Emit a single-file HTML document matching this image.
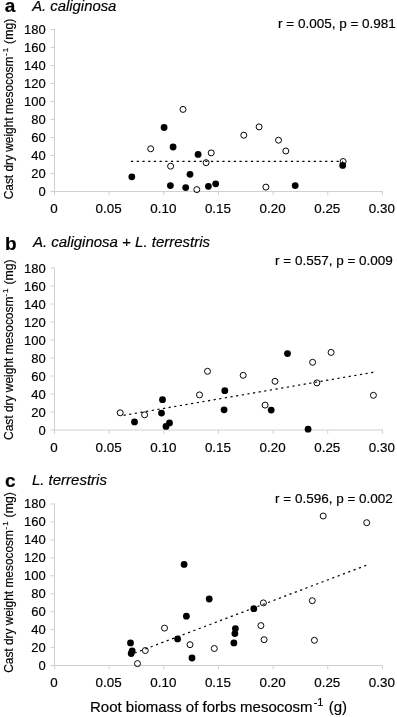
<!DOCTYPE html>
<html><head><meta charset="utf-8"><title>Figure</title>
<style>
html,body{margin:0;padding:0;background:#fff;overflow:hidden;}
svg{display:block;}
text{font-family:"Liberation Sans",sans-serif;fill:#000;stroke:#000;stroke-width:0.18px;}
.tk{font-size:13px;}
.tx{font-size:13.4px;}

.xl{font-size:15px;}
.lt{font-size:19px;font-weight:bold;}
.ti{font-style:italic;}
.st{font-size:13.5px;}
</style></head><body>
<svg width="397" height="717" viewBox="0 0 397 717">
<rect width="397" height="717" fill="#fff"/>
<g transform="translate(0,0.0)">
<g stroke="#d0d0d0" stroke-width="1" fill="none" shape-rendering="auto">
<path d="M54.5,29.00V195.3M50.3,191.5H382.90"/>
<path d="M50.7,173.50H54.5M50.7,155.50H54.5M50.7,137.50H54.5M50.7,119.50H54.5M50.7,101.50H54.5M50.7,83.50H54.5M50.7,65.50H54.5M50.7,47.50H54.5M50.7,29.50H54.5M109.15,191.5V195.3M163.80,191.5V195.3M218.45,191.5V195.3M273.10,191.5V195.3M327.75,191.5V195.3M382.40,191.5V195.3"/></g>
<text class="tk" x="45.8" y="195.70" text-anchor="end">0</text>
<text class="tk" x="45.8" y="177.70" text-anchor="end">20</text>
<text class="tk" x="45.8" y="159.70" text-anchor="end">40</text>
<text class="tk" x="45.8" y="141.70" text-anchor="end">60</text>
<text class="tk" x="45.8" y="123.70" text-anchor="end">80</text>
<text class="tk" x="45.8" y="105.70" text-anchor="end">100</text>
<text class="tk" x="45.8" y="87.70" text-anchor="end">120</text>
<text class="tk" x="45.8" y="69.70" text-anchor="end">140</text>
<text class="tk" x="45.8" y="51.70" text-anchor="end">160</text>
<text class="tk" x="45.8" y="33.70" text-anchor="end">180</text>
<text class="tx" x="54.00" y="212.70" text-anchor="middle">0</text>
<text class="tx" x="108.65" y="212.70" text-anchor="middle">0.05</text>
<text class="tx" x="163.30" y="212.70" text-anchor="middle">0.10</text>
<text class="tx" x="217.95" y="212.70" text-anchor="middle">0.15</text>
<text class="tx" x="272.60" y="212.70" text-anchor="middle">0.20</text>
<text class="tx" x="327.25" y="212.70" text-anchor="middle">0.25</text>
<text class="tx" x="381.90" y="212.70" text-anchor="middle">0.30</text>
<text class="yl" font-size="11.9px" transform="translate(13.0,199.30) rotate(-90)">Cast dry weight mesocosm<tspan font-size="8px" x="143.4" dy="-5.3">-</tspan><tspan font-size="8px" x="147.0">1</tspan><tspan x="152.0" dy="5.3" font-size="12.25px"> (mg)</tspan></text>
<text class="lt" x="4.8" y="12.00">a</text>
<text class="ti" x="32.2" y="10.50" font-size="14.85px">A. caliginosa</text>
<text class="st" x="278.0" y="27.50">r = 0.005, p = 0.981</text>
</g>
<line x1="131.0" y1="161.3" x2="343.1" y2="161.3" stroke="#000" stroke-width="1.2" stroke-dasharray="2.2 3.51" stroke-dashoffset="0"/>
<circle cx="183.0" cy="109.4" r="3.0" fill="none" stroke="#000" stroke-width="0.98"/>
<circle cx="150.7" cy="148.8" r="3.0" fill="none" stroke="#000" stroke-width="0.98"/>
<circle cx="211.2" cy="152.9" r="3.0" fill="none" stroke="#000" stroke-width="0.98"/>
<circle cx="170.6" cy="166.2" r="3.0" fill="none" stroke="#000" stroke-width="0.98"/>
<circle cx="206.1" cy="162.7" r="3.0" fill="none" stroke="#000" stroke-width="0.98"/>
<circle cx="196.8" cy="189.6" r="3.0" fill="none" stroke="#000" stroke-width="0.98"/>
<circle cx="243.8" cy="135.2" r="3.0" fill="none" stroke="#000" stroke-width="0.98"/>
<circle cx="259.1" cy="126.9" r="3.0" fill="none" stroke="#000" stroke-width="0.98"/>
<circle cx="278.5" cy="140.2" r="3.0" fill="none" stroke="#000" stroke-width="0.98"/>
<circle cx="285.8" cy="151.0" r="3.0" fill="none" stroke="#000" stroke-width="0.98"/>
<circle cx="265.9" cy="187.1" r="3.0" fill="none" stroke="#000" stroke-width="0.98"/>
<circle cx="343.1" cy="161.5" r="3.0" fill="none" stroke="#000" stroke-width="0.98"/>
<circle cx="164.1" cy="127.5" r="3.4" fill="#000"/>
<circle cx="173.1" cy="147.0" r="3.4" fill="#000"/>
<circle cx="198.1" cy="154.4" r="3.4" fill="#000"/>
<circle cx="131.8" cy="176.8" r="3.4" fill="#000"/>
<circle cx="190.0" cy="174.3" r="3.4" fill="#000"/>
<circle cx="170.4" cy="185.6" r="3.4" fill="#000"/>
<circle cx="185.7" cy="187.6" r="3.4" fill="#000"/>
<circle cx="208.4" cy="186.3" r="3.4" fill="#000"/>
<circle cx="215.7" cy="183.8" r="3.4" fill="#000"/>
<circle cx="295.2" cy="185.6" r="3.4" fill="#000"/>
<circle cx="342.7" cy="165.4" r="3.4" fill="#000"/>
<g transform="translate(0,238.5)">
<g stroke="#d0d0d0" stroke-width="1" fill="none" shape-rendering="auto">
<path d="M54.5,29.00V195.3M50.3,191.5H382.90"/>
<path d="M50.7,173.50H54.5M50.7,155.50H54.5M50.7,137.50H54.5M50.7,119.50H54.5M50.7,101.50H54.5M50.7,83.50H54.5M50.7,65.50H54.5M50.7,47.50H54.5M50.7,29.50H54.5M109.15,191.5V195.3M163.80,191.5V195.3M218.45,191.5V195.3M273.10,191.5V195.3M327.75,191.5V195.3M382.40,191.5V195.3"/></g>
<text class="tk" x="45.8" y="196.30" text-anchor="end">0</text>
<text class="tk" x="45.8" y="178.30" text-anchor="end">20</text>
<text class="tk" x="45.8" y="160.30" text-anchor="end">40</text>
<text class="tk" x="45.8" y="142.30" text-anchor="end">60</text>
<text class="tk" x="45.8" y="124.30" text-anchor="end">80</text>
<text class="tk" x="45.8" y="106.30" text-anchor="end">100</text>
<text class="tk" x="45.8" y="88.30" text-anchor="end">120</text>
<text class="tk" x="45.8" y="70.30" text-anchor="end">140</text>
<text class="tk" x="45.8" y="52.30" text-anchor="end">160</text>
<text class="tk" x="45.8" y="34.30" text-anchor="end">180</text>
<text class="tx" x="54.00" y="213.30" text-anchor="middle">0</text>
<text class="tx" x="108.65" y="213.30" text-anchor="middle">0.05</text>
<text class="tx" x="163.30" y="213.30" text-anchor="middle">0.10</text>
<text class="tx" x="217.95" y="213.30" text-anchor="middle">0.15</text>
<text class="tx" x="272.60" y="213.30" text-anchor="middle">0.20</text>
<text class="tx" x="327.25" y="213.30" text-anchor="middle">0.25</text>
<text class="tx" x="381.90" y="213.30" text-anchor="middle">0.30</text>
<text class="yl" font-size="11.95px" transform="translate(13.0,201.40) rotate(-90)">Cast dry weight mesocosm<tspan font-size="8px" x="143.4" dy="-5.3">-</tspan><tspan font-size="8px" x="147.0">1</tspan><tspan x="152.0" dy="5.3" font-size="12.25px"> (mg)</tspan></text>
<text class="lt" x="5.0" y="11.70">b</text>
<text class="ti" x="32.9" y="8.60" font-size="15px">A. caliginosa + L. terrestris</text>
<text class="st" x="275.0" y="26.40">r = 0.557, p = 0.009</text>
</g>
<line x1="120.2" y1="415.9" x2="373.4" y2="372.3" stroke="#000" stroke-width="1.2" stroke-dasharray="2.2 3.51" stroke-dashoffset="2.3"/>
<circle cx="120.2" cy="412.8" r="3.0" fill="none" stroke="#000" stroke-width="0.98"/>
<circle cx="144.6" cy="414.8" r="3.0" fill="none" stroke="#000" stroke-width="0.98"/>
<circle cx="199.5" cy="394.9" r="3.0" fill="none" stroke="#000" stroke-width="0.98"/>
<circle cx="207.5" cy="371.3" r="3.0" fill="none" stroke="#000" stroke-width="0.98"/>
<circle cx="243.2" cy="375.3" r="3.0" fill="none" stroke="#000" stroke-width="0.98"/>
<circle cx="275.0" cy="381.3" r="3.0" fill="none" stroke="#000" stroke-width="0.98"/>
<circle cx="265.1" cy="405.1" r="3.0" fill="none" stroke="#000" stroke-width="0.98"/>
<circle cx="312.6" cy="362.3" r="3.0" fill="none" stroke="#000" stroke-width="0.98"/>
<circle cx="331.1" cy="352.4" r="3.0" fill="none" stroke="#000" stroke-width="0.98"/>
<circle cx="316.9" cy="382.9" r="3.0" fill="none" stroke="#000" stroke-width="0.98"/>
<circle cx="373.4" cy="395.3" r="3.0" fill="none" stroke="#000" stroke-width="0.98"/>
<circle cx="134.5" cy="421.9" r="3.4" fill="#000"/>
<circle cx="162.5" cy="399.7" r="3.4" fill="#000"/>
<circle cx="161.5" cy="413.1" r="3.4" fill="#000"/>
<circle cx="169.5" cy="422.9" r="3.4" fill="#000"/>
<circle cx="166.0" cy="426.4" r="3.4" fill="#000"/>
<circle cx="224.8" cy="390.7" r="3.4" fill="#000"/>
<circle cx="224.1" cy="409.8" r="3.4" fill="#000"/>
<circle cx="271.2" cy="410.1" r="3.4" fill="#000"/>
<circle cx="287.5" cy="353.6" r="3.4" fill="#000"/>
<circle cx="308.1" cy="429.2" r="3.4" fill="#000"/>
<g transform="translate(0,474.0)">
<g stroke="#d0d0d0" stroke-width="1" fill="none" shape-rendering="auto">
<path d="M54.5,29.50V195.3M50.3,191.5H382.90"/>
<path d="M50.7,173.56H54.5M50.7,155.61H54.5M50.7,137.67H54.5M50.7,119.72H54.5M50.7,101.78H54.5M50.7,83.83H54.5M50.7,65.89H54.5M50.7,47.94H54.5M50.7,30.00H54.5M109.15,191.5V195.3M163.80,191.5V195.3M218.45,191.5V195.3M273.10,191.5V195.3M327.75,191.5V195.3M382.40,191.5V195.3"/></g>
<text class="tk" x="45.8" y="195.80" text-anchor="end">0</text>
<text class="tk" x="45.8" y="177.86" text-anchor="end">20</text>
<text class="tk" x="45.8" y="159.91" text-anchor="end">40</text>
<text class="tk" x="45.8" y="141.97" text-anchor="end">60</text>
<text class="tk" x="45.8" y="124.02" text-anchor="end">80</text>
<text class="tk" x="45.8" y="106.08" text-anchor="end">100</text>
<text class="tk" x="45.8" y="88.13" text-anchor="end">120</text>
<text class="tk" x="45.8" y="70.19" text-anchor="end">140</text>
<text class="tk" x="45.8" y="52.24" text-anchor="end">160</text>
<text class="tk" x="45.8" y="34.30" text-anchor="end">180</text>
<text class="tx" x="54.00" y="212.80" text-anchor="middle">0</text>
<text class="tx" x="108.65" y="212.80" text-anchor="middle">0.05</text>
<text class="tx" x="163.30" y="212.80" text-anchor="middle">0.10</text>
<text class="tx" x="217.95" y="212.80" text-anchor="middle">0.15</text>
<text class="tx" x="272.60" y="212.80" text-anchor="middle">0.20</text>
<text class="tx" x="327.25" y="212.80" text-anchor="middle">0.25</text>
<text class="tx" x="381.90" y="212.80" text-anchor="middle">0.30</text>
<text class="yl" font-size="11.9px" transform="translate(13.0,198.80) rotate(-90)">Cast dry weight mesocosm<tspan font-size="8px" x="143.4" dy="-5.3">-</tspan><tspan font-size="8px" x="147.0">1</tspan><tspan x="152.0" dy="5.3" font-size="12.25px"> (mg)</tspan></text>
<text class="lt" x="4.9" y="12.70">c</text>
<text class="ti" x="31.9" y="10.70" font-size="15px">L. terrestris</text>
<text class="st" x="275.0" y="29.30">r = 0.596, p = 0.002</text>
</g>
<line x1="130.5" y1="654.6" x2="366.7" y2="565.15" stroke="#000" stroke-width="1.2" stroke-dasharray="2.2 3.51" stroke-dashoffset="1.3"/>
<circle cx="164.5" cy="628.1" r="3.0" fill="none" stroke="#000" stroke-width="0.98"/>
<circle cx="190.0" cy="644.7" r="3.0" fill="none" stroke="#000" stroke-width="0.98"/>
<circle cx="145.3" cy="650.5" r="3.0" fill="none" stroke="#000" stroke-width="0.98"/>
<circle cx="137.5" cy="663.6" r="3.0" fill="none" stroke="#000" stroke-width="0.98"/>
<circle cx="263.4" cy="602.9" r="3.0" fill="none" stroke="#000" stroke-width="0.98"/>
<circle cx="260.9" cy="625.6" r="3.0" fill="none" stroke="#000" stroke-width="0.98"/>
<circle cx="264.1" cy="639.7" r="3.0" fill="none" stroke="#000" stroke-width="0.98"/>
<circle cx="214.3" cy="648.5" r="3.0" fill="none" stroke="#000" stroke-width="0.98"/>
<circle cx="323.2" cy="516.0" r="3.0" fill="none" stroke="#000" stroke-width="0.98"/>
<circle cx="366.7" cy="522.7" r="3.0" fill="none" stroke="#000" stroke-width="0.98"/>
<circle cx="312.3" cy="600.7" r="3.0" fill="none" stroke="#000" stroke-width="0.98"/>
<circle cx="314.4" cy="640.3" r="3.0" fill="none" stroke="#000" stroke-width="0.98"/>
<circle cx="184.1" cy="564.4" r="3.4" fill="#000"/>
<circle cx="186.4" cy="616.2" r="3.4" fill="#000"/>
<circle cx="177.6" cy="638.9" r="3.4" fill="#000"/>
<circle cx="130.5" cy="642.9" r="3.4" fill="#000"/>
<circle cx="132.2" cy="650.8" r="3.4" fill="#000"/>
<circle cx="131.2" cy="653.5" r="3.4" fill="#000"/>
<circle cx="192.0" cy="658.0" r="3.4" fill="#000"/>
<circle cx="209.2" cy="599.0" r="3.4" fill="#000"/>
<circle cx="253.8" cy="608.7" r="3.4" fill="#000"/>
<circle cx="235.4" cy="628.6" r="3.4" fill="#000"/>
<circle cx="234.9" cy="633.6" r="3.4" fill="#000"/>
<circle cx="233.9" cy="642.9" r="3.4" fill="#000"/>
<text class="xl" x="90" y="711.7">Root biomass of forbs mesocosm<tspan font-size="11px" dy="-5.3" dx="1.1">-1</tspan><tspan dy="5.3" dx="1.1"> (g)</tspan></text>
</svg></body></html>
